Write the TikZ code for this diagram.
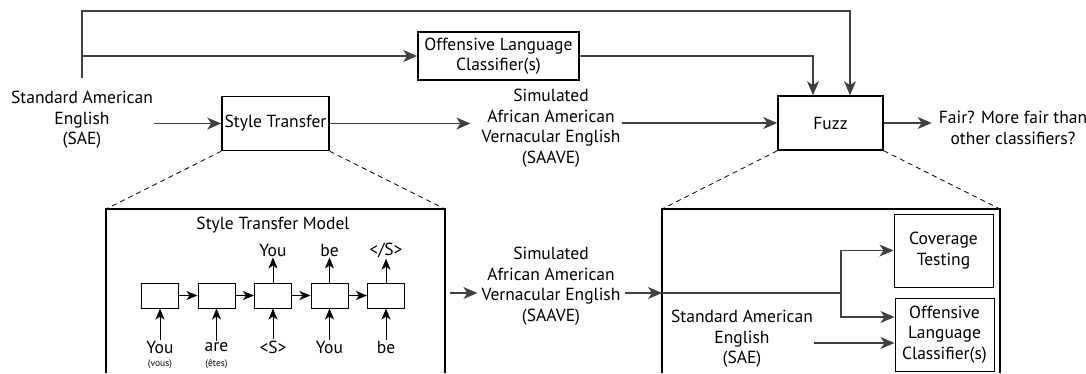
\documentclass[tikz,border=0pt]{standalone}
\usepackage{fontspec}
\setmainfont{PT Sans}
\usetikzlibrary{arrows.meta}

\tikzset{
	blk/.style={draw, line width=1.6pt, align=center, inner sep=0pt},
	thinblk/.style={draw, line width=1pt, align=center, inner sep=0pt, minimum width=99pt, minimum height=73pt},
	cell/.style={draw, line width=1pt, minimum width=37pt, minimum height=25pt, inner sep=0pt},
	lbl/.style={align=center, inner sep=1pt},
	note/.style={inner sep=0pt, font=\fontsize{9.5}{11}\selectfont},
	conn/.style={draw=black!75, line width=1.1pt},
	small/.style={draw=black, line width=0.9pt, >={Stealth[length=11pt,width=9pt,inset=3pt]}},
	zoomline/.style={dash pattern=on 5pt off 4pt, line width=0.8pt},
	frame/.style={line width=1.6pt},
}

\begin{document}
\begin{tikzpicture}[x=1pt, y=-1pt, font=\fontsize{17.5}{20.5}\selectfont, >={Stealth[length=14pt,width=12pt,inset=4pt]}]
			\useasboundingbox (0,0) rectangle (1086,373);
			\node[lbl] (sae) at (82,120) {Standard American\\English\\(SAE)};
			\node[blk, minimum width=107pt, minimum height=54pt] (st) at (275.5,123.5) {Style Transfer};
			\node[blk, minimum width=161pt, minimum height=48pt] (olc) at (498.5,56) {Offensive Language\\Classifier(s)};
			\node[lbl] (saave) at (551,128) {Simulated\\African American\\Vernacular English\\(SAAVE)};
			\node[blk, minimum width=105pt, minimum height=54pt] (fuzz) at (830.5,123) {Fuzz};
			\node[lbl] (fair) at (1013,128) {Fair? More fair than\\other classifiers?};
			\coordinate (tap) at (82,78);
			\draw[conn,->] (sae.east |- st.west) -- (st.west);
			\draw[conn,->, shorten >=10pt] (st.east) -- (saave.west |- st.east);
			\draw[conn,->] (saave.east |- fuzz.west) -- (fuzz.west);
			\draw[conn,->, shorten >=6pt] (fuzz.east) -- (fair.west |- fuzz.east);
			\draw[conn,->] (tap) |- (olc.west);
			\draw[conn,->] (olc.east) -| ([xshift=-17.5pt]fuzz.north);
			\draw[conn,->] (tap) -- ++(0,-67) -| ([xshift=19.5pt]fuzz.north);
			\coordinate (lfnw) at (106,209);
			\coordinate (lfne) at (445,209);
			\coordinate (rfnw) at (662,209);
			\coordinate (rfne) at (1000,209);
			\draw[frame] (lfnw |- 0,373) -- (lfnw) -- (lfne) -- (lfne |- 0,373);
			\draw[frame] (rfnw |- 0,373) -- (rfnw) -- (rfne) -- (rfne |- 0,373);
			\draw[zoomline] (st.south west) -- (lfnw);
			\draw[zoomline] (st.south east) -- (lfne);
			\draw[zoomline] (fuzz.south west) -- (rfnw);
			\draw[zoomline] (fuzz.south east) -- (rfne);
			\node[lbl] (stm) at (273,225) {Style Transfer Model};
			\foreach \i/\x in {1/160,2/216.5,3/273,4/329.5,5/386}
				\node[cell] (c\i) at (\x,295.5) {};
			\foreach \i/\j in {1/2,2/3,3/4,4/5}
				\draw[small,->] (c\i.east) -- (c\j.west);
			\foreach \i/\w in {1/You,2/are,3/{<S>},4/You,5/be} {
				\node[lbl] (in\i) at (c\i |- 0,347) {\w};
				\draw[small,->] (in\i) -- (c\i.south);
			}
			\foreach \i/\w in {3/You,4/be,5/{</S>}} {
				\node[lbl] (out\i) at (c\i |- 0,250) {\w};
				\draw[small,->] (c\i.north) -- (out\i);
			}
			\node[note] (vous) at (in1 |- 0,364) {(vous)};
			\node[note] (etes) at (in2 |- 0,364) {(êtes)};
			\node[lbl] (saave2) at (551,286) {Simulated\\African American\\Vernacular English\\(SAAVE)};
			\coordinate (lfout) at (450,293);
			\draw[conn,->, shorten >=3pt] (lfout) -- (saave2.west |- lfout);
			\draw[conn,->, shorten <=3pt] (saave2.east |- lfout) -- (rfnw |- lfout);
			\node[thinblk] (cov) at (943.5,250.5) {Coverage\\Testing};
			\node[thinblk] (olc2) at (944.5,334.5) {Offensive\\Language\\Classifier(s)};
			\node[lbl] (sae2) at (742,339) {Standard American\\English\\(SAE)};
			\coordinate (fork) at (841,293);
			\coordinate (sae2out) at ([yshift=-4pt]sae2.east);
			\draw[conn] (rfnw |- lfout) -- (fork);
			\draw[conn,->] (fork) |- (cov.west);
			\draw[conn,->] (fork) |- ([yshift=17.5pt]olc2.west);
			\draw[conn,->] (sae2out) -- (sae2out -| olc2.west);
		\end{tikzpicture}
\end{document}
